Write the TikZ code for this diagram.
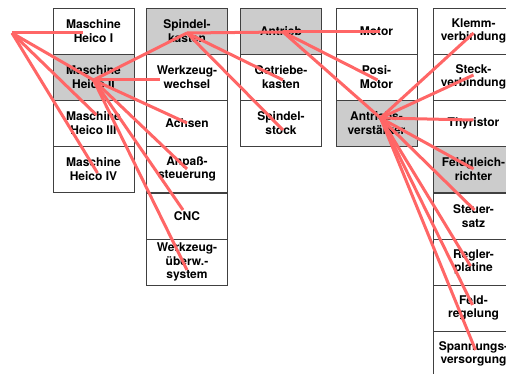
\documentclass[tikz,border=0pt]{standalone}
\usepackage{fontspec}
\setmainfont{TeX Gyre Heros}
\begin{document}
\begin{tikzpicture}[x=1pt, y=-1pt,
    box/.style={draw=black!75, line width=0.8pt, fill=white, minimum width=81pt, minimum height=46pt,
      inner sep=0pt, align=center, font=\bfseries\fontsize{12}{13.5}\selectfont},
    grau/.style={box, fill=black!20},
    link/.style={draw=red!60, line width=3pt}]
  \useasboundingbox (0,0) rectangle (506,374);
  \clip (0,0) rectangle (506,374);

  \coordinate (p0) at (12,33);

  \node[box] (m1) at (93.5,31) {Maschine\\Heico I};
  \node[grau] (m2) at (93.5,77) {Maschine\\Heico II};
  \node[box] (m3) at (93.5,123) {Maschine\\Heico III};
  \node[box] (m4) at (93.5,169) {Maschine\\Heico IV};

  \node[grau] (s1) at (187,31) {Spindel-\\kasten};
  \node[box] (s2) at (187,77) {Werkzeug-\\wechsel};
  \node[box] (s3) at (187,123) {Achsen};
  \node[box] (s4) at (187,169) {Anpaß-\\steuerung};
  \node[box] (s5) at (187,216) {CNC};
  \node[box] (s6) at (187,262) {Werkzeug-\\überw.-\\system};

  \node[grau] (a1) at (281,31) {Antrieb};
  \node[box] (a2) at (281,77) {Getriebe-\\kasten};
  \node[box] (a3) at (281,123) {Spindel-\\stock};

  \node[box] (b1) at (376.5,31) {Motor};
  \node[box] (b2) at (376.5,77) {Posi-\\Motor};
  \node[grau] (b3) at (376.5,123) {Antriebs-\\verstärker};

  \node[box] (c1) at (473.5,31) {Klemm-\\verbindung};
  \node[box] (c2) at (473.5,77) {Steck-\\verbindung};
  \node[box] (c3) at (473.5,123) {Thyristor};
  \node[grau] (c4) at (473.5,169) {Feldgleich-\\richter};
  \node[box] (c5) at (473.5,216) {Steuer-\\satz};
  \node[box] (c6) at (473.5,262) {Regler-\\platine};
  \node[box] (c7) at (473.5,308) {Feld-\\regelung};
  \node[box] (c8) at (473.5,354) {Spannungs-\\versorgung};

  \draw[link] (p0) -- ([shift={(-11,2)}]m1.center);
  \draw[link] (p0) -- ([shift={(0,3)}]m2.center);
  \draw[link] (p0) -- ([shift={(3,-8)}]m3.center);
  \draw[link] (p0) -- ([shift={(4,4)}]m4.center);

  \draw[link] ([shift={(0,3)}]m2.center) -- ([shift={(0,2)}]s1.center);
  \draw[link] ([shift={(0,3)}]m2.center) -- ([shift={(-27,3)}]s2.center);
  \draw[link] ([shift={(0,3)}]m2.center) -- (s3.center);
  \draw[link] ([shift={(0,3)}]m2.center) -- (s4.center);
  \draw[link] ([shift={(0,3)}]m2.center) -- ([shift={(-4,-6)}]s5.center);
  \draw[link] ([shift={(0,3)}]m2.center) -- ([shift={(0,8)}]s6.center);

  \draw[link] ([shift={(0,2)}]s1.center) -- ([shift={(2,1)}]a1.center);
  \draw[link] ([shift={(0,2)}]s1.center) -- ([shift={(2,3)}]a2.center);
  \draw[link] ([shift={(0,2)}]s1.center) -- ([shift={(2,7)}]a3.center);

  \draw[link] ([shift={(2,1)}]a1.center) -- ([shift={(3,1)}]b1.center);
  \draw[link] ([shift={(2,1)}]a1.center) -- ([shift={(1,3)}]b2.center);
  \draw[link] ([shift={(2,1)}]a1.center) -- ([shift={(4,-5)}]b3.center);

  \draw[link] ([shift={(4,-5)}]b3.center) -- ([shift={(0,2)}]c1.center);
  \draw[link] ([shift={(4,-5)}]b3.center) -- ([shift={(0,-2)}]c2.center);
  \draw[link] ([shift={(4,-5)}]b3.center) -- ([shift={(0,-3)}]c3.center);
  \draw[link] ([shift={(4,-5)}]b3.center) -- (c4.center);
  \draw[link] ([shift={(4,-5)}]b3.center) -- ([shift={(1,-6)}]c5.center);
  \draw[link] ([shift={(4,-5)}]b3.center) -- ([shift={(-3,4)}]c6.center);
  \draw[link] ([shift={(4,-5)}]b3.center) -- ([shift={(-1,-3)}]c7.center);
  \draw[link] ([shift={(4,-5)}]b3.center) -- ([shift={(2,-4)}]c8.center);
\end{tikzpicture}
\end{document}
